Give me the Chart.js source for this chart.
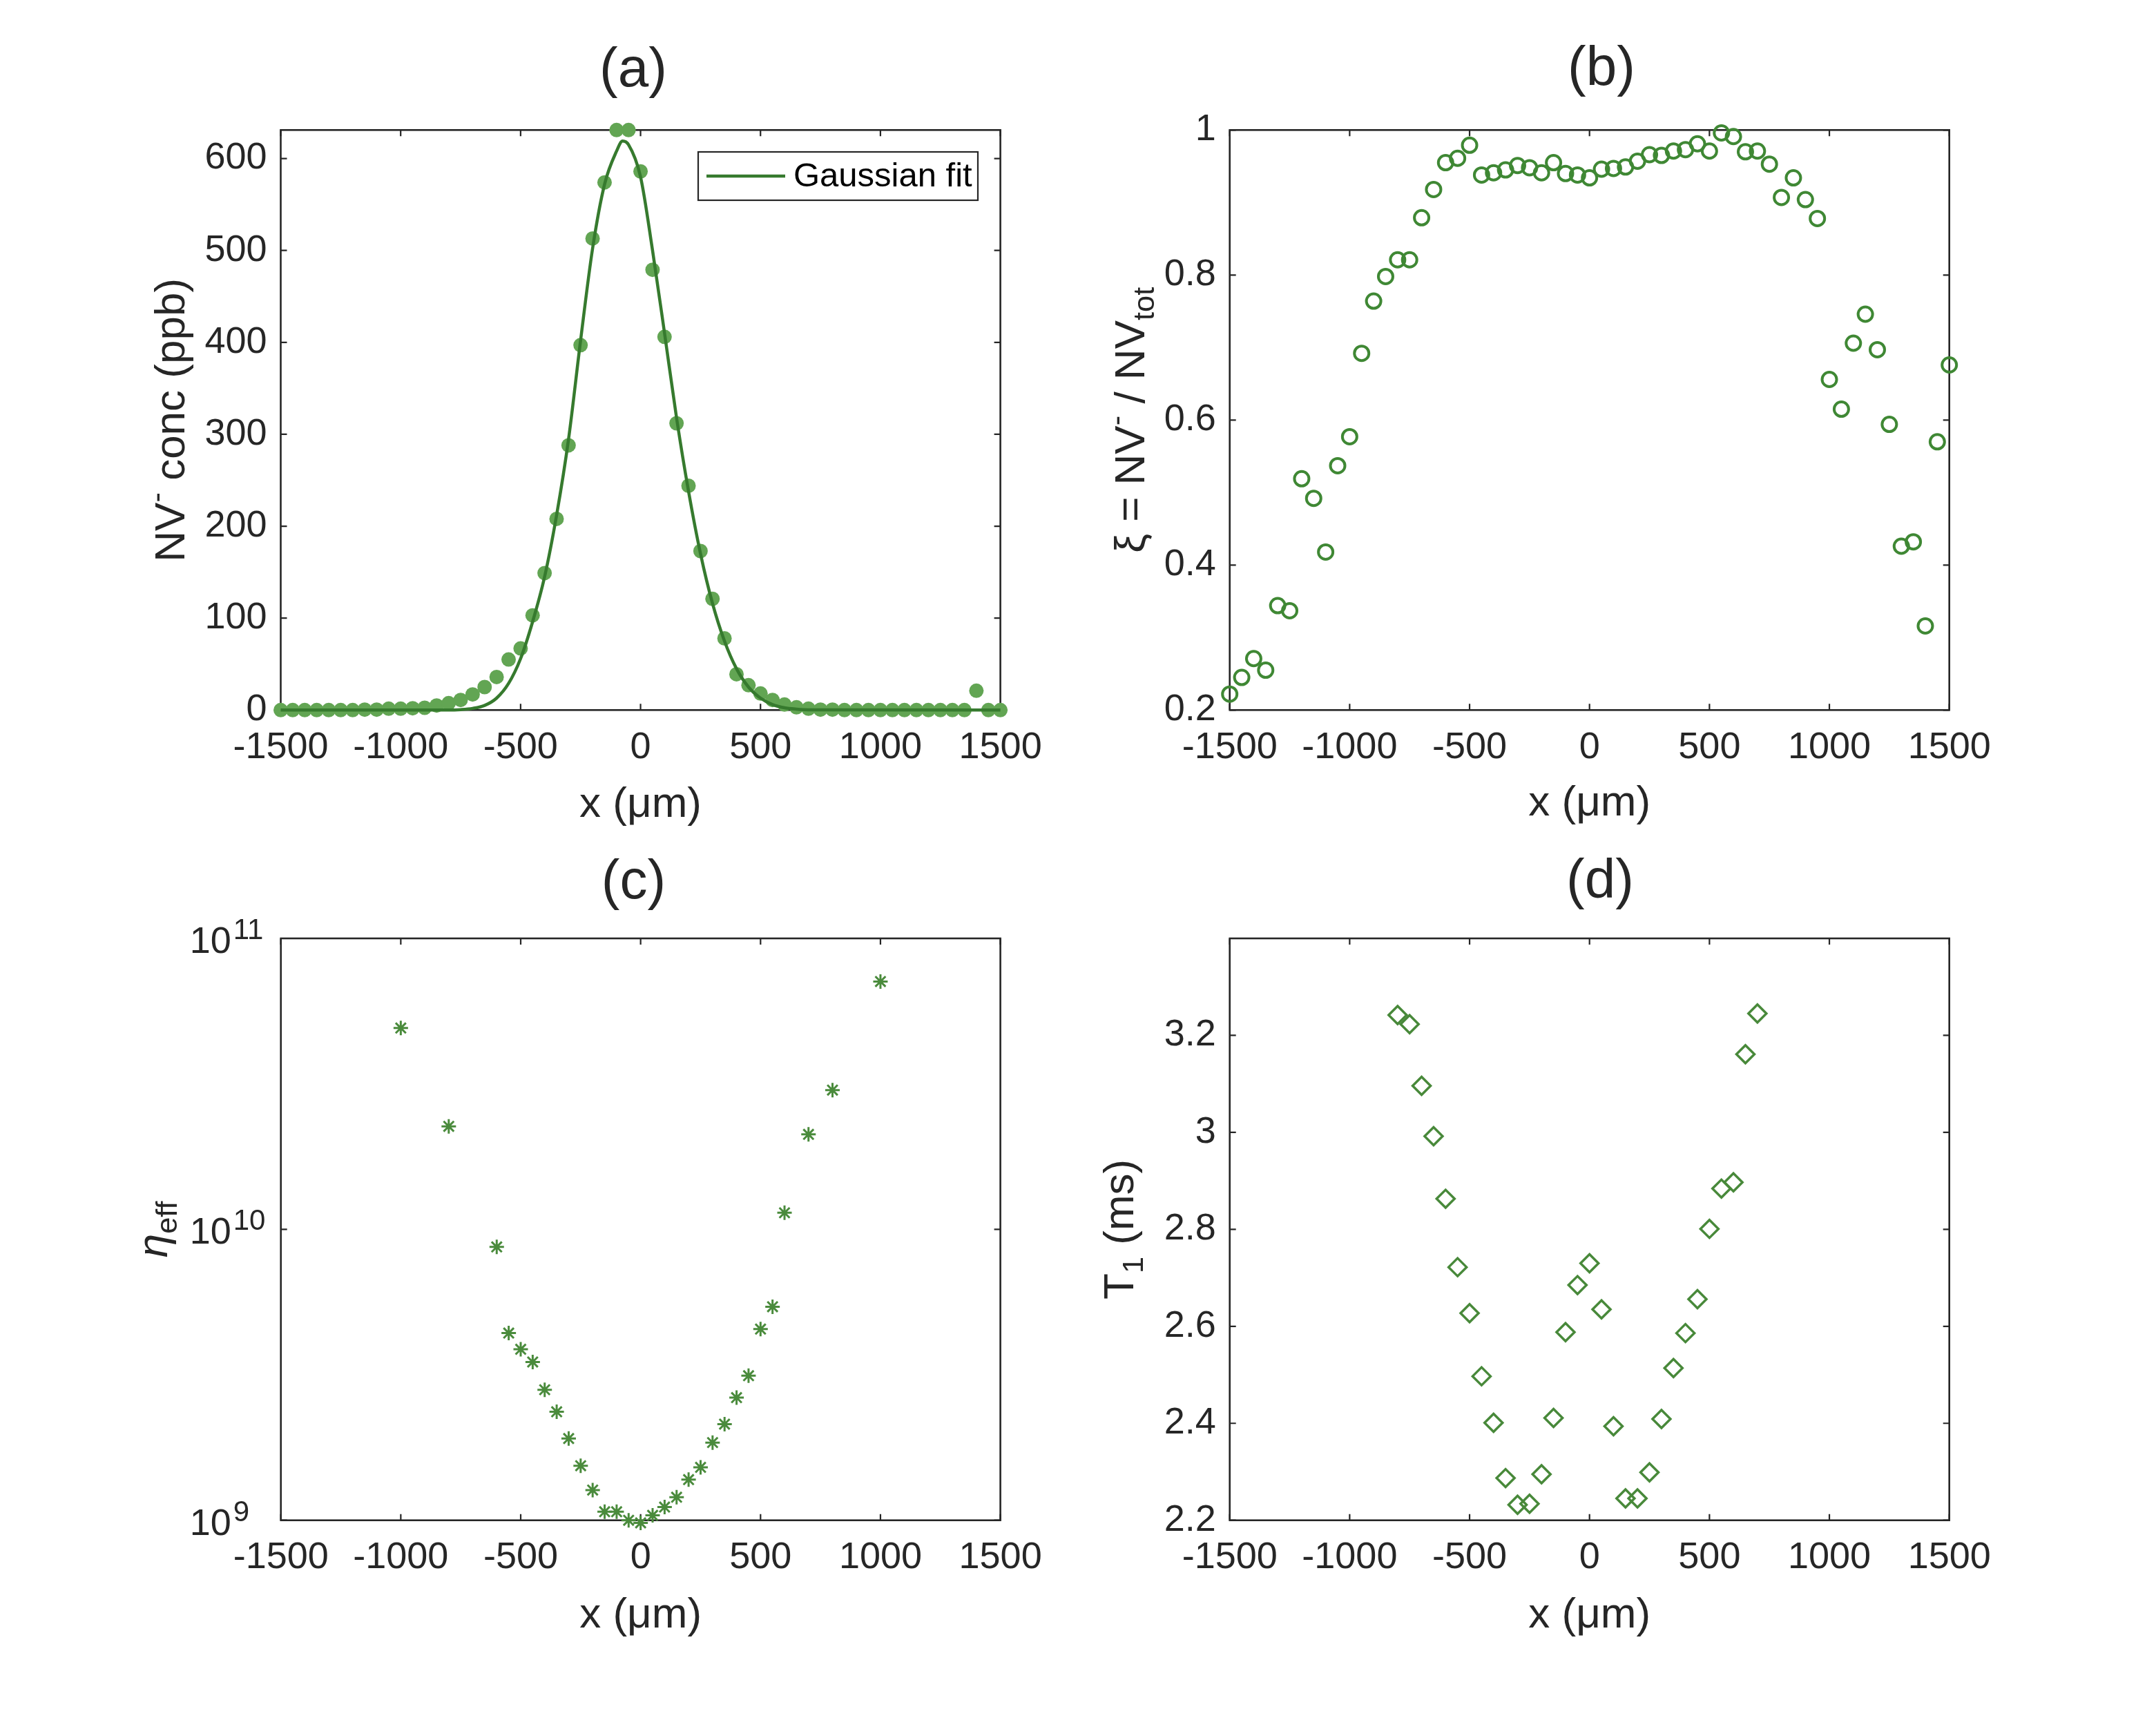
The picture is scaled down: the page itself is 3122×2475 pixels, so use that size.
<!DOCTYPE html>
<html>
<head>
<meta charset="utf-8">
<title>NV profiles</title>
<script src="https://cdn.jsdelivr.net/npm/chart.js@4.4.1/dist/chart.umd.min.js"></script>
<style>
  html, body { margin:0; padding:0; background:#ffffff; }
  body { position:relative; width:3122px; height:2475px; overflow:hidden; }
  canvas { position:absolute; }
</style>
</head>
<body>
<canvas id="pa"></canvas>
<canvas id="pc"></canvas>
<canvas id="pb"></canvas>
<canvas id="pd"></canvas>
<script>
// ---------------- data ----------------
const xTicks = [-1500, -1000, -500, 0, 500, 1000, 1500];
const xTickLabels = ['-1500', '-1000', '-500', '0', '500', '1000', '1500'];

// (a) NV- concentration
const aX = [-1500,-1450,-1400,-1350,-1300,-1250,-1200,-1150,-1100,-1050,-1000,-950,-900,-850,-800,-750,-700,-650,-600,-550,
            -500,-450,-400,-350,-300,-250,-200,-150,-100,-50,0,50,100,150,200,250,300,350,400,450,
            500,550,600,650,700,750,800,850,900,950,1000,1050,1100,1150,1200,1250,1300,1350,1400,1450,1500];
const aConc = [0,0,0,0,0,0,0,0.5,0.5,1.5,1.5,2,2.5,5,7.5,11,17,25,36,55,
               67,103,149,208,288,397,513,574,631,631,586,479,406,312,244,173,121,78,39,27,
               18,11,6,3,1.5,0.5,0.5,0,0,0,0,0,0,0,0,0,0,0,21,0,0];
const aFitX = [-1500,-800,-750,-700,-650,-600,-550,-500,-450,-400,-350,-300,-250,-200,-150,-100,-75,-50,
               0,50,100,150,200,250,300,350,400,450,500,550,600,650,700,1500];
const aFitY = [0,0,0.5,1.8,5,13,29,56,96,145,212,295,402,502,572,608,619,615,
               580,500,410,318,238,170,116,75,45,25,13,6,2.5,1,0.3,0];
const aYTicks = [0, 100, 200, 300, 400, 500, 600];
const aYTickLabels = ['0', '100', '200', '300', '400', '500', '600'];

// (b) charge-state ratio xi
const bX = aX.slice();
const bXi = [0.222,0.245,0.271,0.255,0.344,0.337,0.519,0.492,0.418,0.537,
             0.577,0.692,0.764,0.798,0.821,0.821,0.879,0.918,0.955,0.961,
             0.979,0.938,0.941,0.945,0.951,0.948,0.941,0.955,0.940,0.938,
             0.934,0.946,0.947,0.949,0.957,0.966,0.965,0.971,0.973,0.981,
             0.971,0.996,0.991,0.970,0.971,0.953,0.907,0.934,0.904,0.878,
             0.656,0.615,0.706,0.746,0.697,0.594,0.426,0.432,0.316,0.570,0.676];
const bYTicks = [0.2, 0.4, 0.6, 0.8, 1];
const bYTickLabels = ['0.2', '0.4', '0.6', '0.8', '1'];

// (c) eta_eff
const cX = [-1000,-800,-600,-550,-500,-450,-400,-350,-300,-250,-200,-150,-100,-50,0,
            50,100,150,200,250,300,350,400,450,500,550,600,700,800,1000];
const cEta = [4.92e10,2.26e10,8.7e9,4.40e9,3.87e9,3.50e9,2.81e9,2.36e9,1.91e9,1.54e9,1.27e9,1.07e9,1.07e9,1.0e9,0.98e9,
              1.04e9,1.11e9,1.20e9,1.38e9,1.52e9,1.85e9,2.14e9,2.64e9,3.14e9,4.54e9,5.42e9,1.14e10,2.12e10,3.01e10,7.11e10];
const cYTicks = [1e9, 1e10, 1e11];
const cYTickBase = ['10', '10', '10'];
const cYTickExp = ['9', '10', '11'];

// (d) T1
const dX = [-800,-750,-700,-650,-600,-550,-500,-450,-400,-350,-300,-250,-200,-150,-100,-50,0,
            50,100,150,200,250,300,350,400,450,500,550,600,650,700];
const dT1 = [3.242,3.223,3.096,2.992,2.863,2.722,2.627,2.497,2.401,2.287,2.232,2.234,2.295,2.411,2.588,2.685,2.730,
             2.635,2.394,2.245,2.245,2.299,2.409,2.514,2.586,2.656,2.801,2.884,2.897,3.161,3.245];
const dYTicks = [2.2, 2.4, 2.6, 2.8, 3, 3.2];
const dYTickLabels = ['2.2', '2.4', '2.6', '2.8', '3', '3.2'];

// ---------------- style ----------------
const FAMILY = "'Liberation Sans', Arial, Helvetica, sans-serif";
const INK = '#262626';
const TICK_SIZE = 54, LABEL_SIZE = 62, TITLE_SIZE = 80, LEGEND_SIZE = 49;
const A_DOT = '#62A553', A_FIT = '#367A2E', B_CIRC = '#3F8834', C_STAR = '#4A8B3C', D_DIAM = '#48893A';

Chart.defaults.font.family = FAMILY;
Chart.defaults.color = INK;

function pts(xs, ys) { return xs.map((x, i) => ({ x: x, y: ys[i] })); }

function drawRotatedRich(ctx, segs, cx, cy, size) {
  ctx.save();
  ctx.translate(cx, cy);
  ctx.rotate(-Math.PI / 2);
  ctx.fillStyle = INK;
  ctx.textAlign = 'left';
  ctx.textBaseline = 'alphabetic';
  const items = segs.map(s => {
    const fs = (s.sup || s.sub) ? size * 0.7 : size;
    const font = (s.italic ? 'italic ' : '') + fs + 'px ' + FAMILY;
    ctx.font = font;
    return { s: s, font: font, w: ctx.measureText(s.t).width };
  });
  const total = items.reduce((acc, it) => acc + it.w, 0);
  let x = -total / 2;
  const base = 0.716 * size / 2;
  items.forEach(it => {
    ctx.font = it.font;
    let y = base;
    if (it.s.sup) y -= size * 0.42;
    if (it.s.sub) y += size * 0.22;
    ctx.fillText(it.s.t, x, y);
    x += it.w;
  });
  ctx.restore();
}

function makeDecor(info) {
  return {
    id: 'decor',
    beforeDatasetsDraw(chart) {
      const ctx = chart.ctx, a = chart.chartArea;
      const xs = chart.scales.x, ys = chart.scales.y;
      const TL = 9;
      ctx.save();
      ctx.strokeStyle = INK;
      ctx.lineWidth = 2.2;
      ctx.beginPath();
      xs.ticks.forEach(t => {
        const p = xs.getPixelForValue(t.value);
        ctx.moveTo(p, a.bottom); ctx.lineTo(p, a.bottom - TL);
        ctx.moveTo(p, a.top); ctx.lineTo(p, a.top + TL);
      });
      ys.ticks.forEach(t => {
        const p = ys.getPixelForValue(t.value);
        ctx.moveTo(a.left, p); ctx.lineTo(a.left + TL, p);
        ctx.moveTo(a.right, p); ctx.lineTo(a.right - TL, p);
      });
      ctx.stroke();
      ctx.lineWidth = 2.6;
      ctx.strokeRect(a.left, a.top, a.right - a.left, a.bottom - a.top);
      ctx.restore();
    },
    afterDraw(chart) {
      const ctx = chart.ctx, a = chart.chartArea;
      drawRotatedRich(ctx, info.yTitle, info.yTitleX, (a.top + a.bottom) / 2, LABEL_SIZE);
      if (info.exponents) {
        const ys = chart.scales.y;
        ctx.save();
        ctx.fillStyle = INK;
        ctx.font = '42px ' + FAMILY;
        ctx.textAlign = 'left';
        ctx.textBaseline = 'alphabetic';
        ys.ticks.forEach((t, i) => {
          const p = ys.getPixelForValue(t.value);
          ctx.fillText(info.exponents[i], a.left - info.yTickPad + 3, p + 1);
        });
        ctx.restore();
      }
      if (info.legend) {
        const L = info.legend;
        const ds = chart.data.datasets[L.datasetIndex];
        ctx.save();
        ctx.fillStyle = '#ffffff';
        ctx.fillRect(L.x1, L.y1, L.x2 - L.x1, L.y2 - L.y1);
        ctx.strokeStyle = INK;
        ctx.lineWidth = 2.2;
        ctx.strokeRect(L.x1, L.y1, L.x2 - L.x1, L.y2 - L.y1);
        const cy = (L.y1 + L.y2) / 2;
        ctx.strokeStyle = ds.borderColor;
        ctx.lineWidth = ds.borderWidth;
        ctx.beginPath(); ctx.moveTo(L.lx1, cy); ctx.lineTo(L.lx2, cy); ctx.stroke();
        ctx.fillStyle = '#000000';
        ctx.font = LEGEND_SIZE + 'px ' + FAMILY;
        ctx.textAlign = 'left';
        ctx.textBaseline = 'middle';
        ctx.fillText(ds.label, L.tx, cy + 1);
        ctx.restore();
      }
    }
  };
}

function buildPanel(id, P) {
  const cv = document.getElementById(id);
  // canvas width chosen so that the full-width title is centred at titleX
  const boxW = Math.round(2 * (P.titleX - P.box.x));
  const boxH = P.box.h;
  cv.width = boxW; cv.height = boxH;
  cv.style.left = P.box.x + 'px'; cv.style.top = P.box.y + 'px';
  cv.style.width = boxW + 'px'; cv.style.height = boxH + 'px';

  const areaL = P.area.l - P.box.x, areaR = P.area.r - P.box.x;
  const areaT = P.area.t - P.box.y, areaB = P.area.b - P.box.y;
  const leftW = areaL;
  const rightW = boxW - areaR;
  const titleLH = TITLE_SIZE * 1.2;
  const titleMid = P.titleY - P.box.y - 0.0885 * TITLE_SIZE;
  const tTop = titleMid - titleLH / 2;
  const tBot = areaT - tTop - titleLH;
  const xAxisH = boxH - areaB;
  const xLabelMid = P.xLabelY - P.box.y - 0.0885 * LABEL_SIZE;
  const xLabelPadB = boxH - xLabelMid - LABEL_SIZE * 1.2 / 2;

  const info = {
    yTitle: P.yTitle,
    yTitleX: P.yTitleX - P.box.x,
    exponents: P.exponents || null,
    yTickPad: P.yTickPad,
    legend: P.legend ? {
      datasetIndex: P.legend.datasetIndex,
      x1: P.legend.x1 - P.box.x, x2: P.legend.x2 - P.box.x,
      y1: P.legend.y1 - P.box.y, y2: P.legend.y2 - P.box.y,
      lx1: P.legend.lx1 - P.box.x, lx2: P.legend.lx2 - P.box.x,
      tx: P.legend.tx - P.box.x
    } : null
  };

  return new Chart(cv, {
    type: 'scatter',
    data: { datasets: P.datasets },
    options: {
      responsive: false,
      animation: false,
      devicePixelRatio: 1,
      events: [],
      layout: { padding: { left: 0, top: 0, right: 0, bottom: 0 } },
      plugins: {
        legend: { display: false },
        tooltip: { enabled: false },
        title: {
          display: true, text: P.title, color: INK,
          font: { size: TITLE_SIZE, weight: 'normal', lineHeight: 1.2 },
          padding: { top: tTop, bottom: tBot }
        }
      },
      scales: {
        x: {
          type: 'linear', position: 'bottom', min: -1500, max: 1500,
          grid: { display: false, drawTicks: false }, border: { display: false },
          ticks: {
            autoSkip: false, maxRotation: 0, minRotation: 0, padding: 22,
            font: { size: TICK_SIZE }, color: INK,
            callback: (v, i) => xTickLabels[i]
          },
          afterBuildTicks: s => { s.ticks = xTicks.map(v => ({ value: v })); },
          afterFit: s => { s.height = xAxisH; },
          title: {
            display: true, text: 'x (μm)', color: INK,
            font: { size: LABEL_SIZE, lineHeight: 1.2 },
            padding: { top: 0, bottom: xLabelPadB }
          }
        },
        y: {
          type: P.yType, position: 'left', min: P.yMin, max: P.yMax,
          grid: { display: false, drawTicks: false }, border: { display: false },
          ticks: {
            autoSkip: false, padding: P.yTickPad, labelOffset: P.yLabelOffset || 0,
            font: { size: TICK_SIZE }, color: INK,
            callback: (v, i) => P.yTickLabels[i]
          },
          afterBuildTicks: s => { s.ticks = P.yTicks.map(v => ({ value: v })); },
          afterFit: s => { s.width = leftW; }
        },
        yr: {
          type: 'linear', position: 'right', display: true,
          grid: { display: false, drawTicks: false }, border: { display: false },
          ticks: { display: false },
          afterFit: s => { s.width = rightW; }
        }
      }
    },
    plugins: [makeDecor(info)]
  });
}

// ---------------- panels ----------------
buildPanel('pa', {
  box: { x: 0, y: 0, h: 1237 },
  area: { l: 406.5, t: 188.3, r: 1448.6, b: 1028.3 },
  title: '(a)', titleX: 917, titleY: 109.7, xLabelY: 1171,
  yTitle: [{ t: 'NV' }, { t: '-', sup: true }, { t: ' conc (ppb)' }], yTitleX: 245,
  yType: 'linear', yMin: 0, yMax: 631, yTicks: aYTicks, yTickLabels: aYTickLabels, yTickPad: 20,
  legend: { datasetIndex: 1, x1: 1011, y1: 220, x2: 1416, y2: 290, lx1: 1023, lx2: 1137, tx: 1149 },
  datasets: [
    { label: 'NV⁻ conc', data: pts(aX, aConc), order: 2, clip: false,
      pointStyle: 'circle', pointRadius: 10.5, pointBorderWidth: 0,
      pointBackgroundColor: A_DOT, pointBorderColor: A_DOT, backgroundColor: A_DOT, borderColor: A_DOT },
    { label: 'Gaussian fit', data: pts(aFitX, aFitY), order: 1, clip: false,
      showLine: true, pointRadius: 0, borderColor: A_FIT, backgroundColor: A_FIT, borderWidth: 4.5,
      cubicInterpolationMode: 'monotone', fill: false }
  ]
});

buildPanel('pb', {
  box: { x: 1516, y: 0, h: 1237 },
  area: { l: 1780.7, t: 188.3, r: 2822.7, b: 1028.3 },
  title: '(b)', titleX: 2319, titleY: 108, xLabelY: 1169,
  yTitle: [{ t: 'ξ = NV' }, { t: '-', sup: true }, { t: ' / NV' }, { t: 'tot', sub: true }], yTitleX: 1635,
  yType: 'linear', yMin: 0.2, yMax: 1, yTicks: bYTicks, yTickLabels: bYTickLabels, yTickPad: 20,
  datasets: [
    { label: 'ξ', data: pts(bX, bXi), clip: false,
      pointStyle: 'circle', pointRadius: 10.5, pointBorderWidth: 4,
      pointBackgroundColor: 'rgba(0,0,0,0)', pointBorderColor: B_CIRC, backgroundColor: 'rgba(0,0,0,0)', borderColor: B_CIRC }
  ]
});

buildPanel('pc', {
  box: { x: 0, y: 1200, h: 1275 },
  area: { l: 406.7, t: 1359, r: 1448.6, b: 2201.7 },
  title: '(c)', titleX: 917.5, titleY: 1285.8, xLabelY: 2345.6,
  yTitle: [{ t: 'η', italic: true }, { t: 'eff', sub: true }], yTitleX: 220,
  yType: 'logarithmic', yMin: 1e9, yMax: 1e11, yTicks: cYTicks, yTickLabels: cYTickBase, yTickPad: 72, yLabelOffset: 6,
  exponents: cYTickExp,
  datasets: [
    { label: 'η_eff', data: pts(cX, cEta), clip: false,
      pointStyle: 'star', pointRadius: 10.5, pointBorderWidth: 3,
      pointBackgroundColor: C_STAR, pointBorderColor: C_STAR, backgroundColor: C_STAR, borderColor: C_STAR }
  ]
});

buildPanel('pd', {
  box: { x: 1516, y: 1200, h: 1275 },
  area: { l: 1780.7, t: 1359, r: 2822.7, b: 2201.7 },
  title: '(d)', titleX: 2317, titleY: 1285, xLabelY: 2345,
  yTitle: [{ t: 'T' }, { t: '1', sub: true }, { t: ' (ms)' }], yTitleX: 1619,
  yType: 'linear', yMin: 2.2, yMax: 3.4, yTicks: dYTicks, yTickLabels: dYTickLabels, yTickPad: 20,
  datasets: [
    { label: 'T1', data: pts(dX, dT1), clip: false,
      pointStyle: 'rectRot', pointRadius: 13, pointBorderWidth: 3.5,
      pointBackgroundColor: 'rgba(0,0,0,0)', pointBorderColor: D_DIAM, backgroundColor: 'rgba(0,0,0,0)', borderColor: D_DIAM }
  ]
});
</script>
</body>
</html>
